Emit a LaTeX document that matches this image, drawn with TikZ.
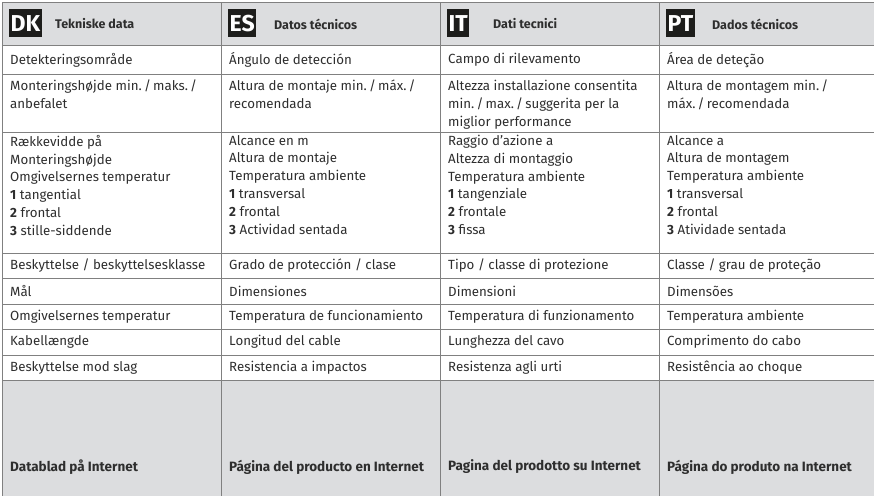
\documentclass[tikz,border=0pt]{standalone}
\usepackage{fontspec}
\setmainfont{Fira Sans}
\definecolor{cellgray}{HTML}{DCDDDF}
\definecolor{rulegray}{HTML}{808080}
\definecolor{badgeblack}{HTML}{1D1D1B}
\definecolor{txt}{HTML}{2E2E2E}
\begin{document}
\begin{tikzpicture}[x=1pt,y=-1pt,
  cell/.style={anchor=west,inner sep=0pt,text=txt,font=\fontsize{13.3}{17.8}\selectfont},
  multi/.style={cell,anchor=north west,align=left},
  web/.style={cell,font=\fontsize{13.5}{17.8}\selectfont\bfseries},
  badge/.style={anchor=north west,fill=badgeblack,text=white,inner xsep=1.5pt,inner ysep=0pt,
    minimum height=28pt,font=\fontsize{23}{23}\selectfont\bfseries},
  head/.style={anchor=west,inner sep=0pt,text=txt,font=\fontsize{12.5}{15}\selectfont\bfseries}]
\useasboundingbox (0,0) rectangle (874,495);
\begin{scope}
\clip (0,0) rectangle (874,495);
\fill[cellgray] (2,3) rectangle (878,46);
\fill[cellgray] (2,380) rectangle (878,560);
\foreach \y in {3,46,74,132,253,278.5,304,329.5,355,380}
  \draw[rulegray,line width=1pt] (2,\y) -- (878,\y);
\foreach \x in {2,221,440,659,878}
  \draw[rulegray,line width=1pt] (\x,3) -- (\x,560);
\end{scope}
\foreach \x/\code/\title in {2/DK/Tekniske data,221/ES/Datos técnicos,440/IT/Dati tecnici,659/PT/Dados técnicos}{
  \node[badge] (badge\code) at (\x+7,9) {\code};
  \node[head] (title\code) at (\x+53,24) {\title};
}
% DK
\node[cell] (dk1) at (10,60) {Detekteringsområde};
\node[multi] (dk2) at (10,80) {Monteringshøjde min.\,/\,maks.\,/\\anbefalet};
\node[multi] (dk3) at (10,135) {Rækkevidde på\\Monteringshøjde\\Omgivelsernes temperatur\\\textbf{1} tangential\\\textbf{2} frontal\\\textbf{3} stille-siddende};
\node[cell] (dk4) at (10,265.7) {Beskyttelse / beskyttelsesklasse};
\node[cell] (dk5) at (10,291.2) {Mål};
\node[cell] (dk6) at (10,316.7) {Omgivelsernes temperatur};
\node[cell] (dk7) at (10,342.2) {Kabellængde};
\node[cell] (dk8) at (10,367.5) {Beskyttelse mod slag};
\node[web] (dkweb) at (10,467) {Datablad på Internet};
% ES
\node[cell] (es1) at (229,60) {Ángulo de detección};
\node[multi] (es2) at (229,80) {Altura de montaje min.\,/\,máx.\,/\\recomendada};
\node[multi] (es3) at (229,135) {Alcance en m\\Altura de montaje\\Temperatura ambiente\\\textbf{1} transversal\\\textbf{2} frontal\\\textbf{3} Actividad sentada};
\node[cell] (es4) at (229,265.7) {Grado de protección / clase};
\node[cell] (es5) at (229,291.2) {Dimensiones};
\node[cell] (es6) at (229,316.7) {Temperatura de funcionamiento};
\node[cell] (es7) at (229,342.2) {Longitud del cable};
\node[cell] (es8) at (229,367.5) {Resistencia a impactos};
\node[web] (esweb) at (229,467) {Página del producto en Internet};
% IT
\node[cell] (it1) at (448,60) {Campo di rilevamento};
\node[multi] (it2) at (448,80) {Altezza installazione consentita\\min.\,/\,max.\,/\,suggerita per la\\miglior performance};
\node[multi] (it3) at (448,135) {Raggio d'azione a\\Altezza di montaggio\\Temperatura ambiente\\\textbf{1} tangenziale\\\textbf{2} frontale\\\textbf{3} fissa};
\node[cell] (it4) at (448,265.7) {Tipo / classe di protezione};
\node[cell] (it5) at (448,291.2) {Dimensioni};
\node[cell] (it6) at (448,316.7) {Temperatura di funzionamento};
\node[cell] (it7) at (448,342.2) {Lunghezza del cavo};
\node[cell] (it8) at (448,367.5) {Resistenza agli urti};
\node[web] (itweb) at (448,467) {Pagina del prodotto su Internet};
% PT
\node[cell] (pt1) at (667,60) {Área de deteção};
\node[multi] (pt2) at (667,80) {Altura de montagem min.\,/\\máx.\,/\,recomendada};
\node[multi] (pt3) at (667,135) {Alcance a\\Altura de montagem\\Temperatura ambiente\\\textbf{1} transversal\\\textbf{2} frontal\\\textbf{3} Atividade sentada};
\node[cell] (pt4) at (667,265.7) {Classe / grau de proteção};
\node[cell] (pt5) at (667,291.2) {Dimensões};
\node[cell] (pt6) at (667,316.7) {Temperatura ambiente};
\node[cell] (pt7) at (667,342.2) {Comprimento do cabo};
\node[cell] (pt8) at (667,367.5) {Resistência ao choque};
\node[web] (ptweb) at (667,467) {Página do produto na Internet};
\end{tikzpicture}
\end{document}
